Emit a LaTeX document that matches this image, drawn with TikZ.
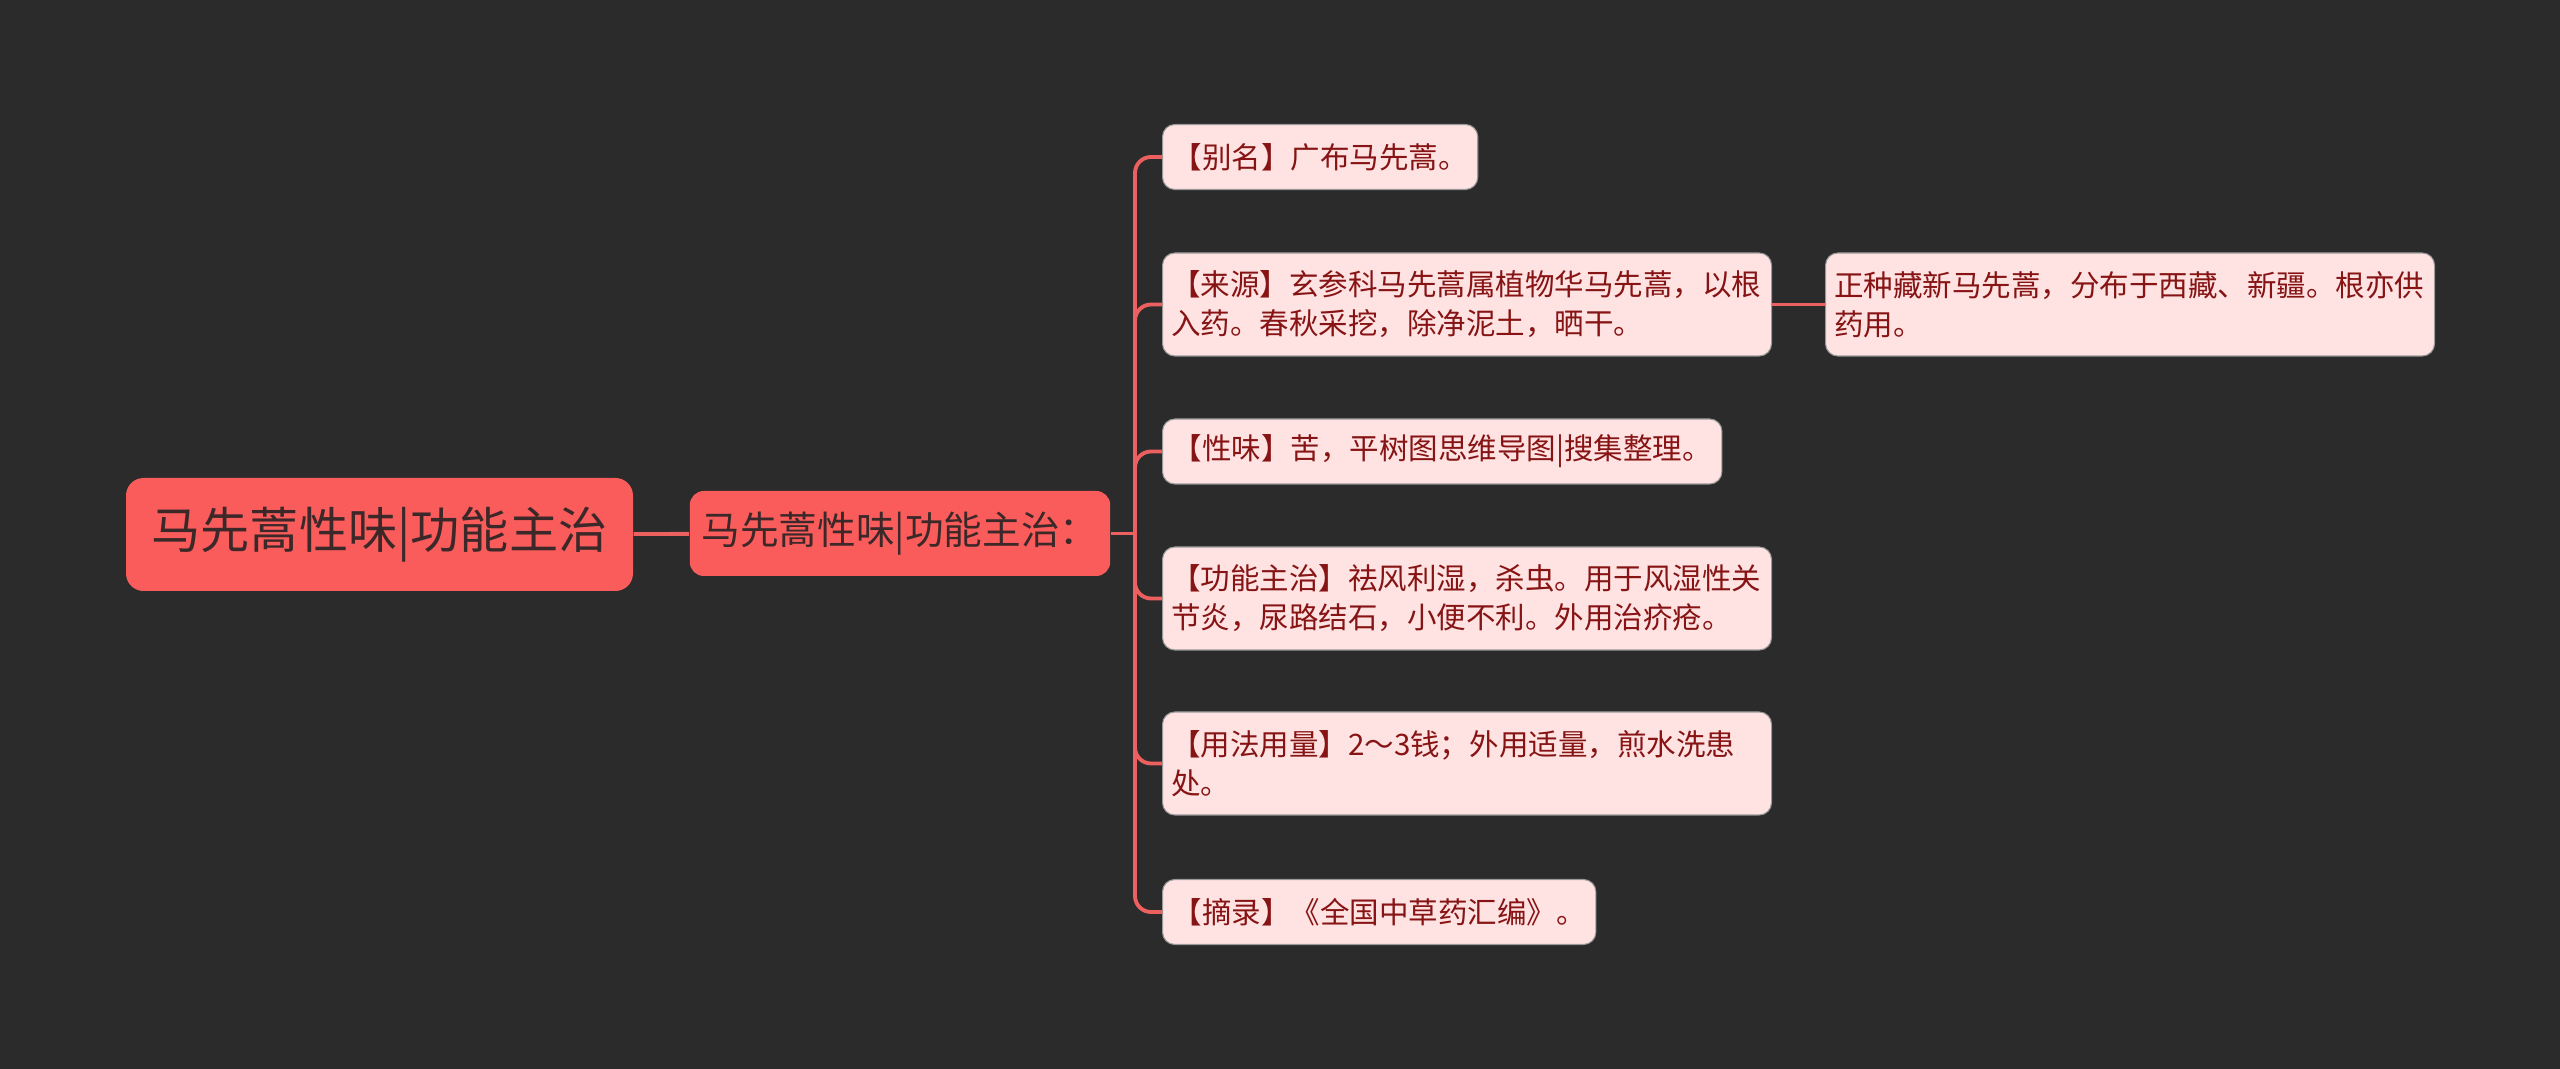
\documentclass[tikz,border=0pt]{standalone}
\usepackage{fontspec}
\setmainfont{Noto Sans CJK SC}
\usepackage{xcolor}
\usepackage{tikz}
\usetikzlibrary{positioning}
\definecolor{bgdark}{RGB}{43,43,43}
\definecolor{rootred}{RGB}{250,92,92}
\definecolor{rootink}{RGB}{60,40,40}
\definecolor{leafpink}{RGB}{255,226,226}
\definecolor{leafink}{RGB}{135,20,20}
\definecolor{linkred}{RGB}{236,96,96}

\begin{document}
\begin{tikzpicture}[
        topic/.style={fill=rootred, rounded corners=5pt, text=rootink,
                      minimum width=5.07cm, minimum height=1.13cm,
                      font=\fontsize{14pt}{17pt}\selectfont},
        sub/.style={fill=rootred, rounded corners=4pt, text=rootink,
                    minimum width=4.18cm, minimum height=0.85cm,
                    font=\fontsize{11pt}{14pt}\selectfont},
        leaf/.style={fill=leafpink, draw=black!40, line width=0.3pt,
                     rounded corners=3.5pt, text=leafink, anchor=west,
                     inner xsep=0.1cm, inner ysep=0.05cm,
                     minimum height=0.65cm, align=left,
                     font=\fontsize{8.4pt}{11.1pt}\selectfont},
        wide/.style={leaf, text width=5.92cm, inner xsep=0.085cm,
                     minimum height=1.03cm},
        link/.style={linkred, line width=1.1pt, rounded corners=0.16cm},
      ]
        \fill[bgdark] (0,0) rectangle (25.6,-10.69);

        \node[topic] (root) at (3.795,-5.345) {马先蒿性味|功能主治};
        \node[sub]   (main) at (9.0,-5.335)   {马先蒿性味|功能主治：};

        % branches
        \node[leaf] (alias)  at (11.62,-1.57)  {【别名】广布马先蒿。};
        \node[wide] (source) at (11.62,-3.045)
          {【来源】玄参科马先蒿属植物华马先蒿，以根\\入药。春秋采挖，除净泥土，晒干。};
        \node[leaf] (taste)  at (11.62,-4.515) {【性味】苦，平树图思维导图|搜集整理。};
        \node[wide] (usage)  at (11.62,-5.985)
          {【功能主治】祛风利湿，杀虫。用于风湿性关\\节炎，尿路结石，小便不利。外用治疥疮。};
        \node[wide] (dose)   at (11.62,-7.635)
          {【用法用量】2～3钱；外用适量，煎水洗患\\处。};
        \node[leaf] (quote)  at (11.62,-9.12)  {【摘录】《全国中草药汇编》。};
        \node[wide] (xizang) at (18.25,-3.045)
          {正种藏新马先蒿，分布于西藏、新疆。根亦供\\药用。};

        \coordinate (hub) at (11.35,-5.335);

        % connectors
        \draw[link] (root) -- (main);
        \draw[link] (main) -- (hub);
        \foreach \leafname in {alias, source, taste, usage, dose, quote}
          \draw[link] (hub) |- (\leafname.west);
        \draw[link] (source) -- (xizang);
      \end{tikzpicture}
\end{document}
